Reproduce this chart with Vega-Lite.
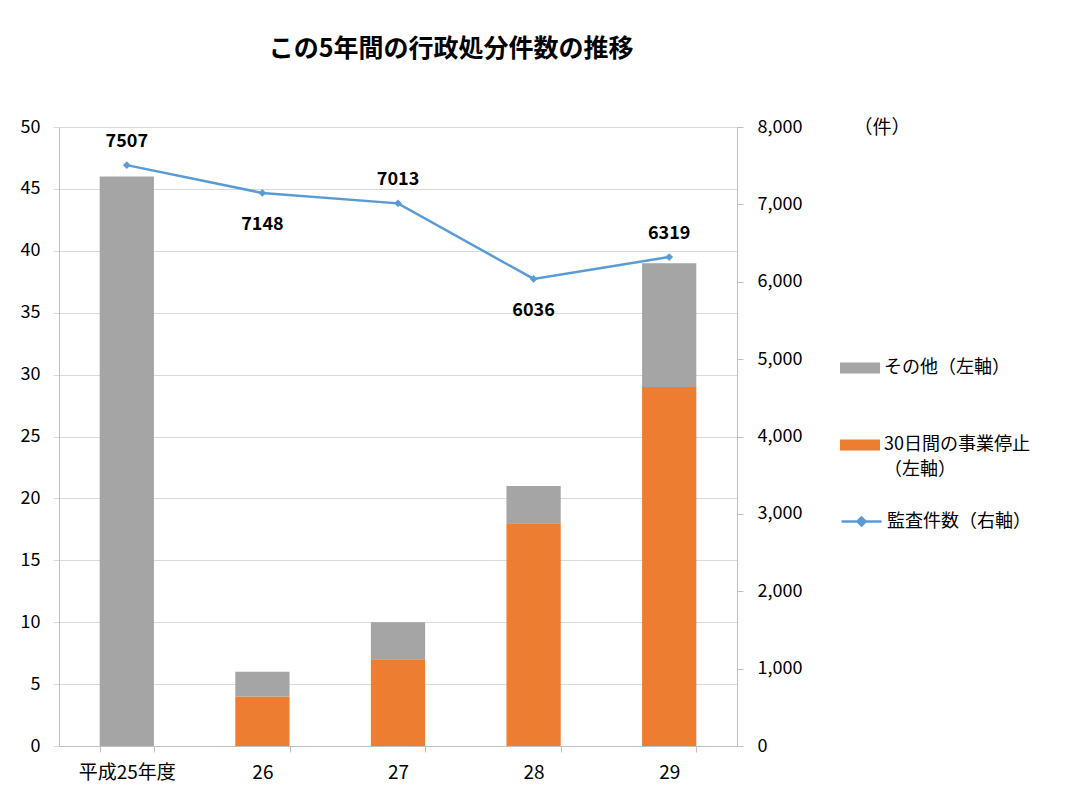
{
  "$schema": "https://vega.github.io/schema/vega-lite/v6.json",
  "width": 678,
  "height": 619,
  "autosize": {"type": "none"},
  "padding": {"left": 59, "top": 127, "right": 350, "bottom": 54},
  "background": "white",
  "config": {
    "font": "Noto Sans CJK JP",
    "view": {"stroke": null},
    "axis": {"labelColor": "black", "labelFontSize": 18, "titleColor": "black"},
    "legend": {"labelColor": "black", "labelFontSize": 18}
  },
  "title": {
    "text": "この5年間の行政処分件数の推移",
    "fontSize": 25,
    "fontWeight": "bold",
    "color": "black",
    "anchor": "middle",
    "dx": 53,
    "offset": 56
  },
  "datasets": {
    "bars": [
      {"year": "平成25年度", "series": "30日間の事業停止（左軸）", "value": 0},
      {"year": "平成25年度", "series": "その他（左軸）", "value": 46},
      {"year": "26", "series": "30日間の事業停止（左軸）", "value": 4},
      {"year": "26", "series": "その他（左軸）", "value": 2},
      {"year": "27", "series": "30日間の事業停止（左軸）", "value": 7},
      {"year": "27", "series": "その他（左軸）", "value": 3},
      {"year": "28", "series": "30日間の事業停止（左軸）", "value": 18},
      {"year": "28", "series": "その他（左軸）", "value": 3},
      {"year": "29", "series": "30日間の事業停止（左軸）", "value": 29},
      {"year": "29", "series": "その他（左軸）", "value": 10}
    ],
    "audit": [
      {"year": "平成25年度", "count": 7507},
      {"year": "26", "count": 7148},
      {"year": "27", "count": 7013},
      {"year": "28", "count": 6036},
      {"year": "29", "count": 6319}
    ]
  },
  "encoding": {
    "x": {
      "field": "year",
      "type": "nominal",
      "sort": ["平成25年度", "26", "27", "28", "29"],
      "scale": {"type": "band", "paddingInner": 0.6, "paddingOuter": 0.3},
      "axis": {
        "title": null,
        "labelAngle": 0,
        "labelFontSize": 19,
        "tickBand": "extent",
        "domainColor": "#BFBFBF",
        "tickColor": "#BFBFBF",
        "tickSize": 6,
        "labelPadding": 11,
        "grid": false
      }
    }
  },
  "layer": [
    {
      "data": {"name": "bars"},
      "mark": {"type": "bar"},
      "encoding": {
        "y": {
          "field": "value",
          "type": "quantitative",
          "stack": "zero",
          "scale": {"domain": [0, 50]},
          "axis": {
            "title": null,
            "values": [0, 5, 10, 15, 20, 25, 30, 35, 40, 45, 50],
            "grid": true,
            "gridColor": "#D9D9D9",
            "domainColor": "#BFBFBF",
            "tickColor": "#D9D9D9",
            "tickSize": 6,
            "labelPadding": 13
          }
        },
        "color": {
          "field": "series",
          "type": "nominal",
          "scale": {"domain": ["その他（左軸）", "30日間の事業停止（左軸）"], "range": ["#A5A5A5", "#ED7D31"]},
          "legend": {
            "title": null,
            "orient": "none",
            "legendX": 781,
            "legendY": 221,
            "direction": "vertical",
            "symbolType": "M-1,-0.28H1V0.28H-1Z",
            "symbolSize": 1600,
            "symbolStrokeWidth": 0,
            "labelOffset": 4,
            "labelLimit": 300,
            "rowPadding": 48,
            "labelExpr": "datum.label == '30日間の事業停止（左軸）' ? ['30日間の事業停止', '（左軸）'] : datum.label",
            "encode": {"labels": {"update": {"lineHeight": {"value": 25}}}}
          }
        },
        "order": {"field": "series", "sort": "ascending"}
      }
    },
    {
      "data": {"name": "audit"},
      "encoding": {
        "y": {
          "field": "count",
          "type": "quantitative",
          "scale": {"domain": [0, 8000]},
          "axis": {
            "orient": "right",
            "values": [0, 1000, 2000, 3000, 4000, 5000, 6000, 7000, 8000],
            "format": ",d",
            "grid": false,
            "domainColor": "#BFBFBF",
            "tickColor": "#BFBFBF",
            "tickSize": 6,
            "labelPadding": 14,
            "title": "（件）",
            "titleAngle": 0,
            "titleX": 116,
            "titleY": 0,
            "titleAlign": "left",
            "titleBaseline": "middle",
            "titleFontSize": 19,
            "titleFontWeight": "normal"
          }
        }
      },
      "layer": [
        {
          "mark": {"type": "line", "color": "#5B9BD5", "strokeWidth": 2.5},
          "encoding": {
            "stroke": {
              "datum": "監査件数（右軸）",
              "scale": {"domain": ["監査件数（右軸）"], "range": ["#5B9BD5"]},
              "legend": {
                "title": null,
                "orient": "none",
                "legendX": 781,
                "legendY": 373,
                "symbolType": "M-1,0H1M-0.2,0L0,-0.2L0.2,0L0,0.2Z",
                "symbolSize": 1600,
                "symbolStrokeWidth": 2.5,
                "symbolFillColor": "#5B9BD5",
                "labelOffset": 4,
                "labelLimit": 300
              }
            }
          }
        },
        {
          "mark": {"type": "point", "shape": "diamond", "filled": true, "color": "#5B9BD5", "size": 60, "opacity": 1}
        },
        {
          "transform": [{"filter": "indexof(['平成25年度', '27', '29'], datum.year) >= 0"}],
          "mark": {"type": "text", "fontWeight": "bold", "fontSize": 18, "dy": -23, "color": "black"},
          "encoding": {"text": {"field": "count", "type": "quantitative", "format": "d"}}
        },
        {
          "transform": [{"filter": "indexof(['26', '28'], datum.year) >= 0"}],
          "mark": {"type": "text", "fontWeight": "bold", "fontSize": 18, "dy": 32, "color": "black"},
          "encoding": {"text": {"field": "count", "type": "quantitative", "format": "d"}}
        }
      ]
    }
  ],
  "resolve": {"scale": {"y": "independent"}}
}
